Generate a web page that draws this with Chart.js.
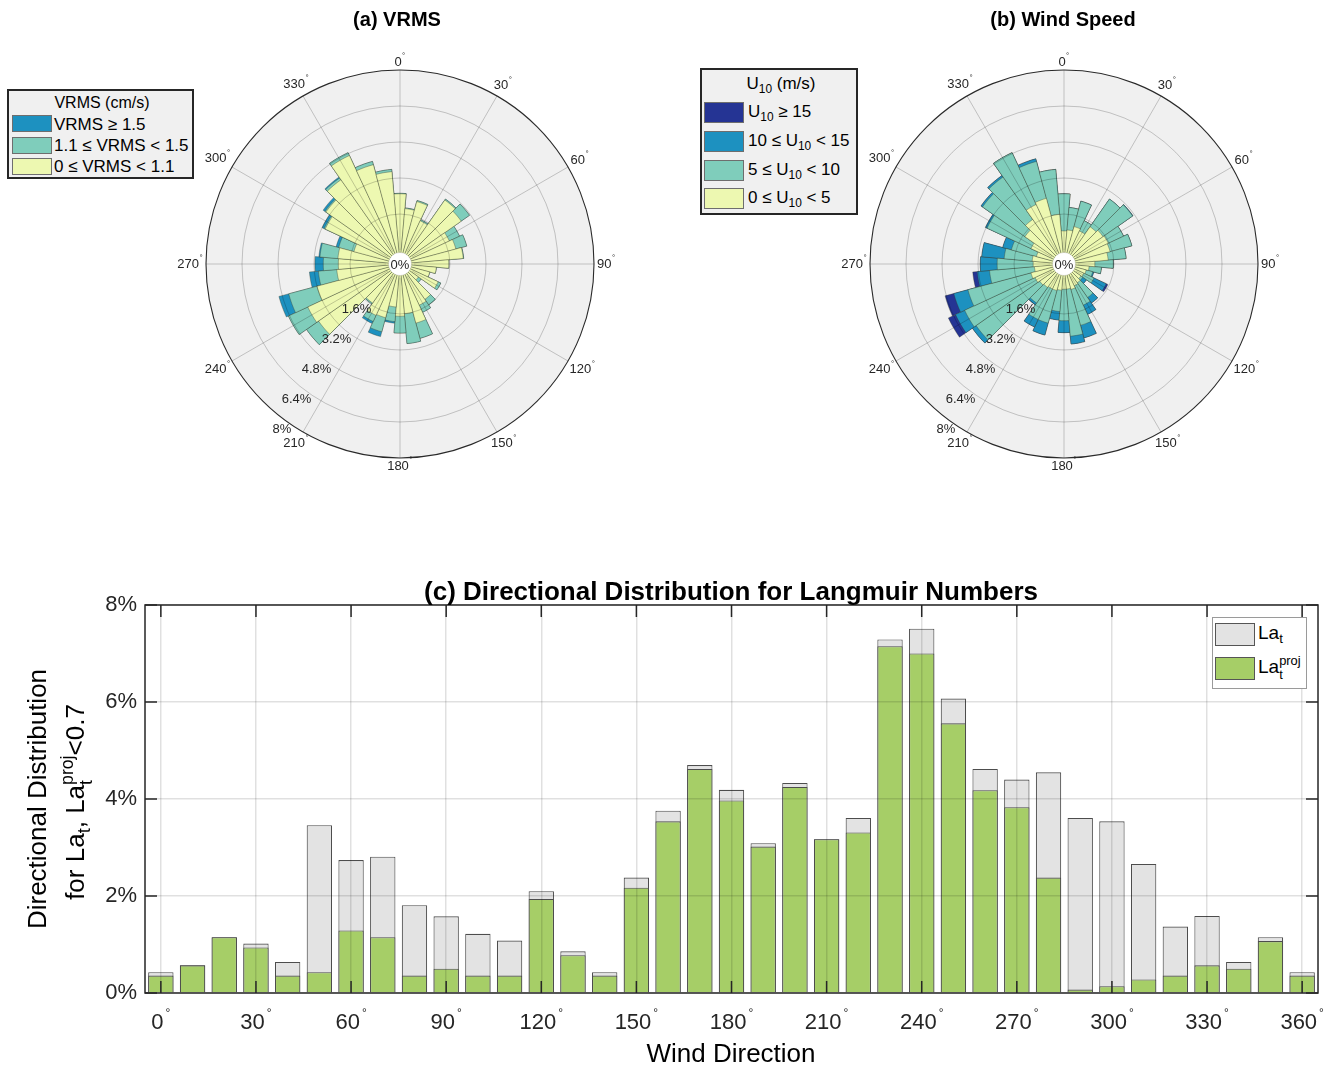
<!DOCTYPE html>
<html>
<head>
<meta charset="utf-8">
<title>VRMS, wind speed and Langmuir number directional distributions</title>
<script src="https://cdn.jsdelivr.net/npm/chart.js@4.4.1/dist/chart.umd.min.js"></script>
<style>
  html, body { margin: 0; padding: 0; background: #fff; }
  #page { position: relative; width: 1329px; height: 1067px; overflow: hidden;
          font-family: "Liberation Sans", Arial, Helvetica, sans-serif; color: #000; }
  canvas { position: absolute; }
  .abs { position: absolute; white-space: nowrap; }
  .title { font-weight: bold; transform: translate(-50%, -50%); }
  .box { position: absolute; box-sizing: border-box; }
  .sw { position: absolute; box-sizing: border-box; border: 1px solid #6e6e6e; }
  .lt { position: absolute; white-space: nowrap; transform: translateY(-50%); line-height: 1; }
  sub { font-size: 70%; line-height: 0; vertical-align: -0.35em; }
  .ss { display: inline-block; vertical-align: middle; line-height: 1.05; font-size: 68%; text-align: left; }
  .ss span { display: block; }
</style>
</head>
<body>
<div id="page">
  <canvas id="roseVrms" width="488" height="488" style="left:156px;top:20px"></canvas>
  <canvas id="roseWind" width="488" height="488" style="left:820px;top:20px"></canvas>
  <canvas id="bars" width="1380" height="507" style="left:0;top:560px"></canvas>

  <div class="abs title" style="left:397px;top:19px;font-size:20px">(a) VRMS</div>
  <div class="abs title" style="left:1063px;top:19px;font-size:20px">(b) Wind Speed</div>
  <div class="abs title" style="left:731px;top:591px;font-size:26px">(c) Directional Distribution for Langmuir Numbers</div>

  <!-- legend of the VRMS rose -->
  <div class="box" style="left:7px;top:89px;width:187px;height:90px;background:#f0f0f0;border:2px solid #262626"></div>
  <div class="abs" style="left:102px;top:103px;font-size:16px;transform:translate(-50%,-50%)">VRMS (cm/s)</div>
  <div class="sw" style="left:12px;top:115px;width:40px;height:17px;background:#1d91c0"></div>
  <div class="lt" style="left:54px;top:124px;font-size:17px">VRMS &ge; 1.5</div>
  <div class="sw" style="left:12px;top:137px;width:40px;height:17px;background:#7fcdbb"></div>
  <div class="lt" style="left:54px;top:145px;font-size:17px">1.1 &le; VRMS &lt; 1.5</div>
  <div class="sw" style="left:12px;top:158px;width:40px;height:17px;background:#edf8b1"></div>
  <div class="lt" style="left:54px;top:166px;font-size:17px">0 &le; VRMS &lt; 1.1</div>

  <!-- legend of the wind-speed rose -->
  <div class="box" style="left:700px;top:68px;width:158px;height:147px;background:#f0f0f0;border:2px solid #262626"></div>
  <div class="abs" style="left:781px;top:84px;font-size:17px;transform:translate(-50%,-50%)">U<sub>10</sub> (m/s)</div>
  <div class="sw" style="left:704px;top:102px;width:40px;height:21px;background:#253494"></div>
  <div class="lt" style="left:748px;top:111px;font-size:17px">U<sub>10</sub> &ge; 15</div>
  <div class="sw" style="left:704px;top:131px;width:40px;height:21px;background:#1d91c0"></div>
  <div class="lt" style="left:748px;top:140px;font-size:17px">10 &le; U<sub>10</sub> &lt; 15</div>
  <div class="sw" style="left:704px;top:160px;width:40px;height:21px;background:#7fcdbb"></div>
  <div class="lt" style="left:748px;top:169px;font-size:17px">5 &le; U<sub>10</sub> &lt; 10</div>
  <div class="sw" style="left:704px;top:188px;width:40px;height:21px;background:#edf8b1"></div>
  <div class="lt" style="left:748px;top:197px;font-size:17px">0 &le; U<sub>10</sub> &lt; 5</div>

  <!-- legend of the Langmuir bar chart -->
  <div class="box" style="left:1212px;top:617px;width:95px;height:72px;background:#fff;border:1px solid #9a9a9a"></div>
  <div class="sw" style="left:1215px;top:623px;width:40px;height:23px;background:#e3e3e3;border-color:#555"></div>
  <div class="lt" style="left:1258px;top:632px;font-size:19px">La<sub>t</sub></div>
  <div class="sw" style="left:1215px;top:657px;width:40px;height:23px;background:#a6ce67;border-color:#555"></div>
  <div class="lt" style="left:1258px;top:668px;font-size:19px">La<span class="ss"><span>proj</span><span>t</span></span></div>

  <!-- axis titles of the bar chart -->
  <div class="abs" style="left:731px;top:1053px;font-size:26px;transform:translate(-50%,-50%)">Wind Direction</div>
  <div class="abs" style="left:37px;top:799px;font-size:26px;transform:translate(-50%,-50%) rotate(-90deg)">Directional Distribution</div>
  <div class="abs" style="left:77px;top:802px;font-size:26px;transform:translate(-50%,-50%) rotate(-90deg)">for La<sub>t</sub>, La<span class="ss"><span>proj</span><span>t</span></span>&lt;0.7</div>
</div>

<script>
// ---------------- rose data: 10-degree bins, % of records ----------------
const roseDirs = [0, 10, 20, 30, 40, 50, 60, 70, 80, 90, 100, 110,
                  120, 130, 140, 150, 160, 170, 180, 190, 200, 210, 220, 230,
                  240, 250, 260, 270, 280, 290, 300, 310, 320, 330, 340, 350];

// (a) VRMS classes
const vrmsLow  = [2.50, 1.85, 2.25, 1.50, 2.85, 2.70, 1.80, 1.95, 2.20, 1.55, 1.00, 0.75,
                  1.25, 0.38, 1.30, 1.40, 2.10, 1.60, 1.70, 1.30, 1.85, 1.90, 1.50, 3.80,
                  3.90, 3.20, 2.20, 2.12, 2.15, 1.50, 3.05, 3.40, 3.95, 4.70, 3.95, 3.50];
const vrmsMid  = [0.02, 0.03, 0.05, 0.05, 0.05, 0.45, 0.50, 0.50, 0.02, 0.00, 0.00, 0.00,
                  0.13, 0.15, 0.30, 0.35, 0.70, 1.33, 0.75, 0.65, 0.65, 0.30, 0.05, 0.65,
                  0.95, 1.30, 0.82, 0.67, 0.80, 0.70, 0.05, 0.05, 0.10, 0.14, 0.15, 0.10];
const vrmsHigh = [0.00, 0.00, 0.00, 0.00, 0.00, 0.00, 0.00, 0.00, 0.00, 0.00, 0.00, 0.00,
                  0.00, 0.00, 0.00, 0.00, 0.00, 0.00, 0.00, 0.07, 0.22, 0.10, 0.00, 0.00,
                  0.00, 0.45, 0.40, 0.37, 0.05, 0.12, 0.10, 0.10, 0.05, 0.00, 0.00, 0.00];

// (b) wind-speed classes
const windCalm   = [0.85, 0.90, 1.10, 1.00, 1.40, 1.50, 1.55, 1.50, 1.35, 0.75, 0.50, 0.40,
                    0.35, 0.30, 0.40, 0.45, 0.55, 0.50, 0.50, 0.55, 0.60, 0.60, 0.65, 0.70,
                    0.80, 0.90, 0.70, 0.75, 0.80, 0.65, 1.00, 1.50, 1.80, 2.30, 2.40, 1.60];
const windMod    = [1.65, 1.00, 1.17, 0.50, 1.50, 1.60, 0.75, 1.00, 0.80, 0.82, 0.55, 0.30,
                    0.50, 0.10, 0.80, 0.95, 1.65, 2.10, 1.40, 0.95, 1.50, 1.50, 0.85, 3.45,
                    3.45, 2.90, 2.00, 1.60, 1.25, 1.15, 2.15, 2.30, 2.30, 2.54, 1.70, 2.00];
const windFresh  = [0.00, 0.00, 0.00, 0.00, 0.00, 0.02, 0.00, 0.00, 0.00, 0.00, 0.00, 0.05,
                    0.60, 0.20, 0.30, 0.45, 0.58, 0.35, 0.53, 0.38, 0.55, 0.37, 0.10, 0.20,
                    0.45, 0.65, 0.55, 0.75, 1.00, 0.40, 0.08, 0.08, 0.08, 0.00, 0.12, 0.00];
const windStrong = [0.00, 0.00, 0.00, 0.00, 0.00, 0.00, 0.00, 0.00, 0.00, 0.00, 0.00, 0.00,
                    0.08, 0.00, 0.00, 0.00, 0.00, 0.00, 0.00, 0.00, 0.00, 0.00, 0.00, 0.00,
                    0.35, 0.40, 0.20, 0.00, 0.00, 0.00, 0.00, 0.00, 0.00, 0.00, 0.00, 0.00];

const ringTicks    = [0, 1.6, 3.2, 4.8, 6.4, 8];
const ringLabels   = ['0%', '1.6%', '3.2%', '4.8%', '6.4%', '8%'];
const compassTicks = [0, 30, 60, 90, 120, 150, 180, 210, 240, 270, 300, 330];

// ---------------- bar chart data: share of records with La < 0.7 ----------------
const barDirs = [0, 10, 20, 30, 40, 50, 60, 70, 80, 90, 100, 110, 120, 130, 140, 150, 160, 170, 180,
                 190, 200, 210, 220, 230, 240, 250, 260, 270, 280, 290, 300, 310, 320, 330, 340, 350, 360];
const latTurb = [0.43, 0.57, 1.15, 1.02, 0.64, 3.46, 2.74, 2.81, 1.81, 1.58, 1.22, 1.08, 2.10, 0.86, 0.43, 2.38, 3.76, 4.70, 4.19,
                 3.09, 4.33, 3.17, 3.61, 7.29, 7.51, 6.07, 4.62, 4.40, 4.55, 3.61, 3.54, 2.66, 1.37, 1.59, 0.64, 1.15, 0.43];
const latProj = [0.36, 0.57, 1.15, 0.94, 0.36, 0.43, 1.29, 1.15, 0.36, 0.50, 0.36, 0.36, 1.94, 0.78, 0.36, 2.17, 3.54, 4.62, 3.97,
                 3.02, 4.25, 3.17, 3.31, 7.15, 7.00, 5.56, 4.18, 3.83, 2.38, 0.07, 0.14, 0.28, 0.36, 0.57, 0.50, 1.07, 0.36];
const barXTicks = [0, 30, 60, 90, 120, 150, 180, 210, 240, 270, 300, 330, 360];
const barYTicks = [0, 2, 4, 6, 8];

// ---------------- shared styling ----------------
const FONT = '"Liberation Sans", Arial, Helvetica, sans-serif';
const INK = '#262626';
Chart.defaults.font.family = FONT;
Chart.defaults.color = INK;

// Running totals so that every class is drawn as a ring on top of the ones below it.
function cumulative(parts) {
  let acc = parts[0].map(() => 0);
  return parts.map(p => (acc = acc.map((v, i) => +(v + p[i]).toFixed(3))));
}

// Disk background, spokes, centre hole and labels of a rose.
const roseFrame = {
  id: 'roseFrame',
  beforeDraw(chart) {
    const s = chart.scales.r, ctx = chart.ctx;
    ctx.save();
    ctx.beginPath();
    ctx.arc(s.xCenter, s.yCenter, s.getDistanceFromCenterForValue(s.max), 0, Math.PI * 2);
    ctx.fillStyle = '#f0f0f0';
    ctx.fill();
    ctx.restore();
  },
  afterDraw(chart) {
    const s = chart.scales.r, ctx = chart.ctx;
    const cx = s.xCenter, cy = s.yCenter;
    const R = s.getDistanceFromCenterForValue(s.max);
    const r0 = s.getDistanceFromCenterForValue(0);
    ctx.save();
    // spokes every 30 degrees
    ctx.strokeStyle = 'rgba(0,0,0,0.25)';
    ctx.lineWidth = 0.8;
    compassTicks.forEach(a => {
      const t = a * Math.PI / 180;
      ctx.beginPath();
      ctx.moveTo(cx + r0 * Math.sin(t), cy - r0 * Math.cos(t));
      ctx.lineTo(cx + R * Math.sin(t), cy - R * Math.cos(t));
      ctx.stroke();
    });
    // centre hole
    ctx.beginPath();
    ctx.arc(cx, cy, r0 - 2.5, 0, Math.PI * 2);
    ctx.fillStyle = '#ffffff';
    ctx.fill();
    ctx.strokeStyle = 'rgba(0,0,0,0.15)';
    ctx.lineWidth = 0.6;
    ctx.stroke();
    ctx.fillStyle = INK;
    ctx.font = '13px ' + FONT;
    ctx.textAlign = 'center';
    ctx.textBaseline = 'middle';
    ctx.fillText(ringLabels[0], cx, cy + 1);
    // ring labels along the lower-left radius
    const tr = 213.7 * Math.PI / 180;
    ctx.textAlign = 'right';
    ringTicks.forEach((v, i) => {
      if (v === 0) return;
      const r = s.getDistanceFromCenterForValue(v);
      ctx.fillText(ringLabels[i], cx + r * Math.sin(tr) - 1, cy - r * Math.cos(tr) + 4);
    });
    // compass labels with a small raised degree mark
    ctx.textAlign = 'left';
    compassTicks.forEach(a => {
      const t = a * Math.PI / 180, sx = Math.sin(t), cz = Math.cos(t);
      ctx.font = '13px ' + FONT;
      const num = String(a);
      const wNum = ctx.measureText(num).width;
      const w = wNum + 4, h = 10;
      const d = R + 3 + (w / 2) * Math.abs(sx) + (h / 2) * Math.abs(cz);
      const x = cx + d * sx - w / 2, y = cy - d * cz;
      ctx.fillText(num, x, y);
      ctx.font = '8px ' + FONT;
      ctx.fillText('°', x + wNum + 0.5, y - 6);
    });
    ctx.restore();
  }
};

function makeRose(id, parts, colors, names) {
  const stacks = cumulative(parts);
  return new Chart(document.getElementById(id), {
    type: 'polarArea',
    data: {
      labels: roseDirs.map(d => d + '°'),
      datasets: stacks.map((data, k) => ({
        label: names[k],
        data,
        backgroundColor: colors[k],
        borderColor: 'rgba(55,55,35,0.5)',
        borderWidth: 0.7,
        order: k
      }))
    },
    options: {
      responsive: false,
      animation: false,
      events: [],
      devicePixelRatio: 1,
      layout: { padding: 50 },
      plugins: { legend: { display: false }, tooltip: { enabled: false } },
      scales: {
        r: {
          min: -0.62,
          max: 8,
          startAngle: -5,
          afterBuildTicks: s => { s.ticks = ringTicks.map(v => ({ value: v })); },
          ticks: { display: false },
          grid: {
            z: 1,
            circular: true,
            color: c => {
              const v = c.tick ? c.tick.value : null;
              if (v === 0) return 'rgba(0,0,0,0)';
              return v === 8 ? '#2a2a2a' : 'rgba(0,0,0,0.25)';
            },
            lineWidth: c => (c.tick && c.tick.value === 8 ? 1.1 : 0.8)
          },
          angleLines: { display: false },
          pointLabels: { display: false }
        }
      }
    },
    plugins: [roseFrame]
  });
}

makeRose('roseVrms', [vrmsLow, vrmsMid, vrmsHigh],
  ['#edf8b1', '#7fcdbb', '#1d91c0'],
  ['0 ≤ VRMS < 1.1', '1.1 ≤ VRMS < 1.5', 'VRMS ≥ 1.5']);

makeRose('roseWind', [windCalm, windMod, windFresh, windStrong],
  ['#edf8b1', '#7fcdbb', '#1d91c0', '#253494'],
  ['0 ≤ U10 < 5', '5 ≤ U10 < 10', '10 ≤ U10 < 15', 'U10 ≥ 15']);

// ---------------- (c) overlaid bars ----------------
// Box, inward tick marks and direction labels with a raised degree mark.
const axesFrame = {
  id: 'axesFrame',
  afterDraw(chart) {
    const { ctx, chartArea: a, scales: { x, y } } = chart;
    const tl = 12;
    ctx.save();
    ctx.strokeStyle = INK;
    ctx.lineWidth = 1.5;
    ctx.beginPath();
    x.ticks.forEach(t => {
      const px = x.getPixelForValue(t.value);
      ctx.moveTo(px, a.bottom); ctx.lineTo(px, a.bottom - tl);
      ctx.moveTo(px, a.top); ctx.lineTo(px, a.top + tl);
    });
    y.ticks.forEach(t => {
      const py = y.getPixelForValue(t.value);
      ctx.moveTo(a.left, py); ctx.lineTo(a.left + tl, py);
      ctx.moveTo(a.right, py); ctx.lineTo(a.right - tl, py);
    });
    ctx.stroke();
    ctx.strokeRect(a.left, a.top, a.right - a.left, a.bottom - a.top);

    ctx.fillStyle = INK;
    ctx.textBaseline = 'alphabetic';
    ctx.textAlign = 'left';
    x.ticks.forEach(t => {
      const px = x.getPixelForValue(t.value);
      const num = String(t.value);
      ctx.font = '22px ' + FONT;
      const wNum = ctx.measureText(num).width;
      ctx.font = '12px ' + FONT;
      const wDeg = ctx.measureText('°').width;
      const left = px - (wNum + 2 + wDeg) / 2;
      const base = a.bottom + 36;
      ctx.font = '22px ' + FONT;
      ctx.fillText(num, left, base);
      ctx.font = '12px ' + FONT;
      ctx.fillText('°', left + wNum + 2, base - 12);
    });
    ctx.restore();
  }
};

new Chart(document.getElementById('bars'), {
  type: 'bar',
  data: {
    datasets: [
      {
        label: 'La_t^proj',
        data: barDirs.map((d, i) => ({ x: d, y: latProj[i] })),
        backgroundColor: '#a6ce67',
        borderColor: '#4d4d4d',
        borderWidth: 1.1,
        grouped: false,
        barPercentage: 0.8,
        categoryPercentage: 1,
        order: 0
      },
      {
        label: 'La_t',
        data: barDirs.map((d, i) => ({ x: d, y: latTurb[i] })),
        backgroundColor: '#e3e3e3',
        borderColor: '#4d4d4d',
        borderWidth: 1.1,
        grouped: false,
        barPercentage: 0.8,
        categoryPercentage: 1,
        order: 1
      }
    ]
  },
  options: {
    responsive: false,
    animation: false,
    events: [],
    devicePixelRatio: 1,
    layout: { padding: { left: 0, right: 62, top: 45, bottom: 0 } },
    plugins: { legend: { display: false }, tooltip: { enabled: false } },
    scales: {
      x: {
        type: 'linear',
        min: -5,
        max: 365,
        offset: false,
        afterBuildTicks: s => { s.ticks = barXTicks.map(v => ({ value: v })); },
        afterFit: s => { s.height = 74; },
        ticks: { display: false },
        grid: { z: 1, offset: false, drawTicks: false, color: 'rgba(0,0,0,0.12)', lineWidth: 1.5 },
        border: { display: false }
      },
      y: {
        min: 0,
        max: 8,
        afterBuildTicks: s => { s.ticks = barYTicks.map(v => ({ value: v })); },
        afterFit: s => { s.width = 145; },
        ticks: { callback: v => v + '%', font: { size: 22 }, color: INK, padding: 8 },
        grid: { z: 1, drawTicks: false, color: 'rgba(0,0,0,0.12)', lineWidth: 1.5 },
        border: { display: false }
      }
    }
  },
  plugins: [axesFrame]
});
</script>
</body>
</html>
